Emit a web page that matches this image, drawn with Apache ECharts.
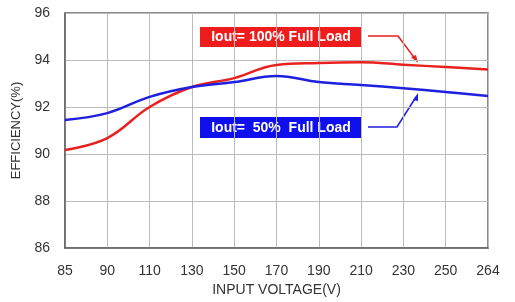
<!DOCTYPE html>
<html>
<head>
<meta charset="utf-8">
<script src="https://cdn.jsdelivr.net/npm/echarts@6/dist/echarts.min.js"></script>
<style>
html,body{margin:0;padding:0;background:#fff;}
#chart{width:515px;height:302px;}
</style>
</head>
<body>
<div id="chart"></div>
<script>
// input voltage categories (V)
var voltages = ['85', '90', '110', '130', '150', '170', '190', '210', '230', '250', '264'];
// efficiency (%)
var fullLoad = [90.17, 90.68, 92.0, 92.85, 93.23, 93.79, 93.87, 93.9, 93.8, 93.7, 93.6];
var halfLoad = [91.45, 91.74, 92.43, 92.85, 93.06, 93.32, 93.06, 92.94, 92.8, 92.64, 92.47];

var myChart = echarts.init(document.getElementById('chart'));
var font = 'Liberation Sans, Arial, sans-serif';

var option = {
    backgroundColor: '#fff',
    animation: false,
    grid: {
        left: 65, top: 13, right: 27, bottom: 54,
        show: true, borderColor: '#666', borderWidth: 1.5
    },
    xAxis: {
        type: 'category',
        data: voltages,
        boundaryGap: false,
        name: 'INPUT VOLTAGE(V)',
        nameLocation: 'middle',
        nameGap: 33,
        nameTextStyle: { color: '#333', fontSize: 14, fontFamily: font },
        axisLine: { lineStyle: { color: '#666', width: 1.5 } },
        axisTick: { show: false },
        axisLabel: { color: '#333', fontSize: 14, fontFamily: font, margin: 16 },
        splitLine: { show: true, lineStyle: { color: '#bbb' } }
    },
    yAxis: {
        type: 'value',
        min: 86, max: 96, interval: 2,
        name: 'EFFICIENCY(%)',
        nameLocation: 'middle',
        nameGap: 42,
        nameTextStyle: { color: '#333', fontSize: 13, fontFamily: font },
        axisLine: { show: true, lineStyle: { color: '#666', width: 1.5 } },
        axisTick: { show: false },
        axisLabel: { color: '#333', fontSize: 14, fontFamily: font, margin: 15 },
        splitLine: { show: true, lineStyle: { color: '#bbb' } }
    },
    series: [
        {
            name: 'Iout= 100% Full Load',
            type: 'line',
            data: fullLoad,
            smooth: 0.4,
            showSymbol: false,
            lineStyle: { color: '#e8211f', width: 2.5 },
            z: 3
        },
        {
            name: 'Iout= 50% Full Load',
            type: 'line',
            data: halfLoad,
            smooth: 0.4,
            showSymbol: false,
            lineStyle: { color: '#1f1fe0', width: 2.5 },
            z: 4
        }
    ],
    graphic: [
        { type: 'rect', shape: { x: 200, y: 27, width: 162, height: 20 }, style: { fill: '#ee1c1c' } },
        { type: 'text', x: 281, y: 37, style: { text: 'Iout= 100% Full Load', fill: '#fff', font: 'bold 14px ' + font, align: 'center', verticalAlign: 'middle' } },
        { type: 'rect', shape: { x: 200, y: 117, width: 162, height: 21 }, style: { fill: '#1010ee' } },
        { type: 'text', x: 281, y: 128, style: { text: 'Iout=  50%  Full Load', fill: '#fff', font: 'bold 14px ' + font, align: 'center', verticalAlign: 'middle' } },
        { type: 'polyline', shape: { points: [[368, 36], [398, 36], [416, 60]] }, style: { stroke: '#e8211f', lineWidth: 1.5, fill: null } },
        { type: 'polygon', shape: { points: [[418, 63], [411, 57], [416, 55]] }, style: { fill: '#e8211f' } },
        { type: 'polyline', shape: { points: [[368, 127], [397, 127], [416, 97]] }, style: { stroke: '#1f1fe0', lineWidth: 1.5, fill: null } },
        { type: 'polygon', shape: { points: [[418, 93], [413, 100], [418, 101]] }, style: { fill: '#1f1fe0' } }
    ]
};
myChart.setOption(option);
</script>
</body>
</html>
